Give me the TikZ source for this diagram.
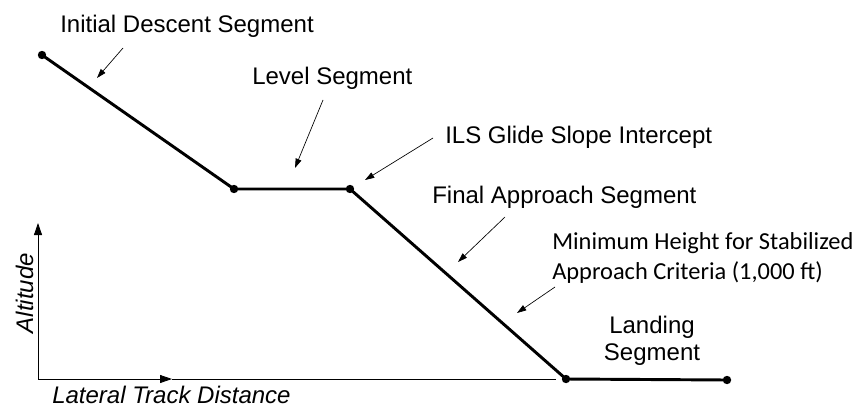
\documentclass[tikz,border=0pt]{standalone}
\usepackage{fontspec}
\setmainfont{Liberation Sans}
\newfontfamily\calibrifont{Carlito}
\usepackage{tikz}
\usetikzlibrary{arrows.meta, positioning}

\begin{document}
\begin{tikzpicture}[
    x=0.75pt, y=-0.75pt,
    lbl/.style={inner sep=0pt, font=\fontsize{18}{20.5}\selectfont},
    note/.style={inner sep=0pt, align=left, font=\calibrifont\fontsize{18.3}{21.8}\selectfont},
    profile/.style={line width=2.2pt, black},
    pointer/.style={-{Triangle[length=7pt, width=4.5pt]}, line width=0.5pt},
    axis/.style={line width=0.6pt, black}
]
\useasboundingbox (0,0) rectangle (856,407);

% descent profile
\coordinate (P1) at (42,55);
\coordinate (P2) at (234,189);
\coordinate (P3) at (350,189);
\coordinate (P4) at (566,379);
\coordinate (P5) at (727,380);
\draw[profile] (P1) -- (P2) -- (P3) -- (P4) -- (P5);
\foreach \i in {1,...,5} {
    \fill (P\i) circle (4.2);
}

% axes
\coordinate (O) at (38,379);
\coordinate (Ytip) at (38,223);
\coordinate (Xtip) at (172,379);
\coordinate (Xend) at (556,379);
\draw[axis, -{Triangle[length=9pt, width=6pt]}] (O) -- (Ytip);
\draw[axis, -{Triangle[length=9pt, width=6pt]}] (O) -- (Xtip);
\draw[axis] (Xtip) -- (Xend);
\node[lbl, font=\fontsize{18}{20.5}\selectfont\itshape, rotate=90, anchor=base] (alt) at (33,293) {Altitude};
\node[lbl, font=\fontsize{18}{20.5}\selectfont\itshape, anchor=base west] (lat) at (52,403) {Lateral Track Distance};

% labels
\node[lbl, anchor=base west] (init) at (60,32) {Initial Descent Segment};
\node[lbl, anchor=base west] (level) at (252,84) {Level Segment};
\node[lbl, anchor=base west] (ils) at (445,143) {ILS Glide Slope Intercept};
\node[lbl, anchor=base west] (final) at (432,203) {Final Approach Segment};
\node[note, anchor=west] (minh) at (552,258) {Minimum Height for Stabilized\\Approach Criteria (1,000 ft)};
\node[lbl, align=center] (land) at (652,341) {Landing\\Segment};

% pointers
\coordinate (a1) at (123,48);  \coordinate (b1) at (97,78);
\coordinate (a2) at (323,100); \coordinate (b2) at (295,168);
\coordinate (a3) at (433,138); \coordinate (b3) at (365,180);
\coordinate (a4) at (505,217); \coordinate (b4) at (458,262);
\coordinate (a5) at (555,287); \coordinate (b5) at (517,313);
\foreach \i in {1,...,5} {
    \draw[pointer] (a\i) -- (b\i);
}
\end{tikzpicture}
\end{document}
